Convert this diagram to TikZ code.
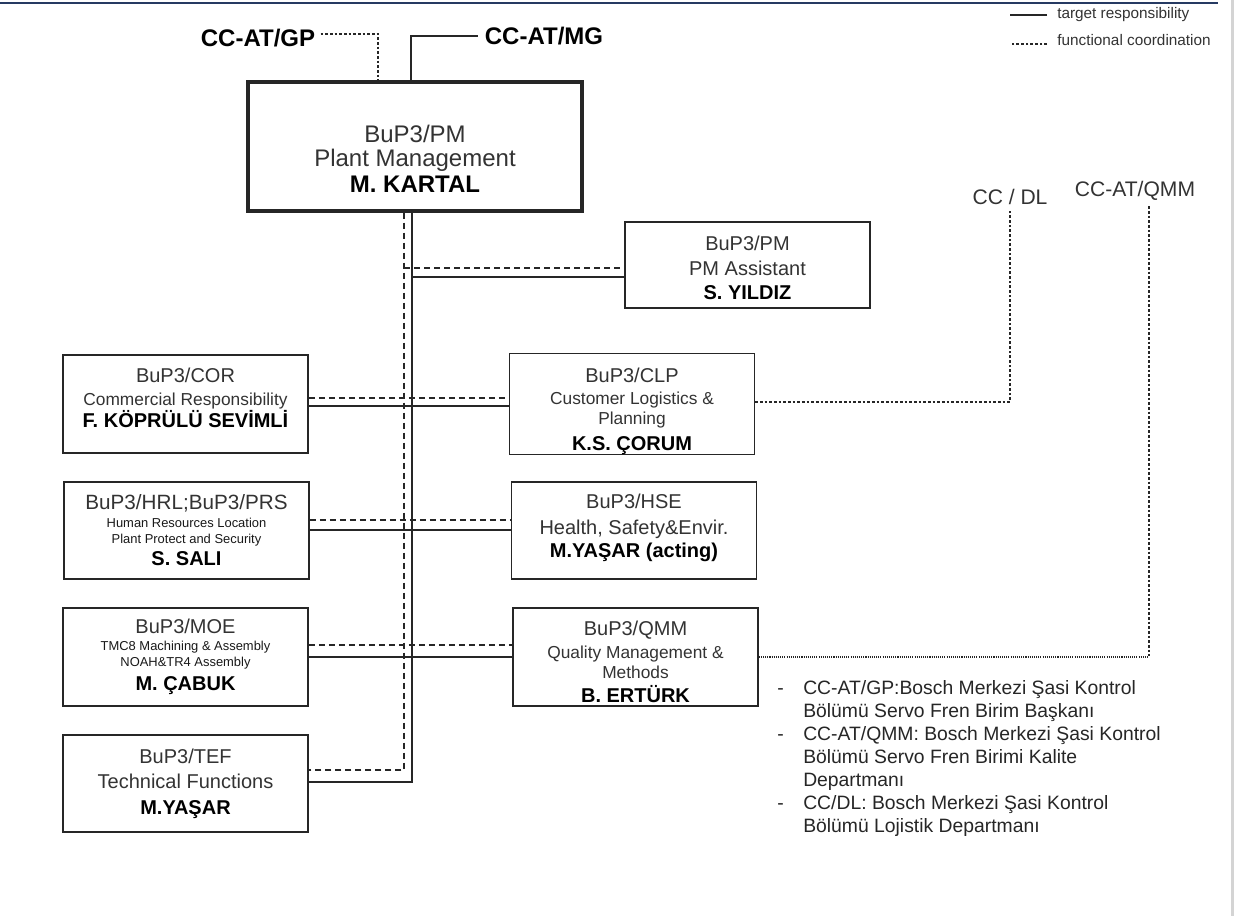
\documentclass[tikz,border=0pt]{standalone}
\usepackage{fontspec}
\setmainfont{Liberation Sans}
\definecolor{topline}{RGB}{38,58,98}
\newcommand{\boss}[1]{{\bfseries\color{black}#1}}
\newcommand{\midtext}[1]{{\fontsize{13}{15}\selectfont #1}}
\newcommand{\smalltext}[1]{{\fontsize{9.7}{11}\selectfont\color{black!90}#1}}
\newcommand{\padtop}[1]{\rule{0pt}{#1}}
\newcommand{\padbot}[1]{\rule[-#1]{0pt}{#1}}

\begin{document}
\begin{tikzpicture}
  [x=0.75pt,y=-0.75pt,
   every node/.style={inner sep=0pt,text=black!80},
   unit/.style={draw=black!85,line width=1.2pt,minimum width=183.75pt,
     minimum height=73.5pt,align=center,font=\fontsize{15}{18.5}\selectfont},
   top/.style={font=\fontsize{18}{20}\selectfont\bfseries,text=black,inner sep=4pt},
   ext/.style={font=\fontsize{15.8}{19}\selectfont,inner sep=4pt},
   legend/.style={font=\fontsize{11.5}{14}\selectfont,anchor=west},
   link/.style={line width=1.1pt,draw=black!85},
   dashlink/.style={link,dash pattern=on 4.5pt off 3pt},
   dotlink/.style={line width=2pt,draw=black!85,dash pattern=on 2pt off 1.5pt},
   finedot/.style={line width=0.8pt,draw=black!85,dash pattern=on 0.8pt off 0.8pt}]

  \useasboundingbox (0,0) rectangle (1238,916);
  \fill[white] (0,0) rectangle (1238,916);
  \draw[topline,line width=1.6pt] (0,3) -- (1218,3);
  \fill[black!17] (1231,0) rectangle (1234,916);

  % legend
  \node[legend] (tr) at (1057,15) {target responsibility};
  \node[legend] (fc) at (1057,40) {functional coordination};
  \draw[link] (tr.west) ++(-10,0) -- ++(-37,0);
  \draw[dotlink] (fc.west) ++(-10,4) -- ++(-37,0);

  % plant management
  \node[unit,line width=2.6pt,minimum width=250.5pt,minimum height=96.75pt,
    font=\fontsize{18}{18}\selectfont] (pm) at (415,146.5)
    {\padtop{31.6pt}BuP3/PM\\Plant Management\\[1.5pt]\boss{M. KARTAL}};
  \node[top] (gp) at (258,38) {CC-AT/GP};
  \node[top,inner sep=5pt] (mg) at (544,36) {CC-AT/MG};

  % units
  \node[unit,minimum height=64.5pt] (ass) at (747.5,265)
    {\padtop{15.4pt}BuP3/PM\\PM Assistant\\\boss{S. YILDIZ}};
  \node[unit] (cor) at (185.5,404)
    {BuP3/COR\\[-1pt]\midtext{Commercial Responsibility}\\[-2pt]\boss{F. KÖPRÜLÜ SEVİMLİ}\padbot{9pt}};
  \node[unit] (clp) at (632,404)
    {\padtop{21.4pt}BuP3/CLP\\[-1.5pt]\midtext{Customer Logistics \&}\\[-3.5pt]\midtext{Planning}\\[0.5pt]\boss{K.S. ÇORUM}};
  \node[unit,minimum height=72.75pt] (hrl) at (186.5,530.5)
    {\fontsize{15.5}{18}\selectfont BuP3/HRL;BuP3/PRS\\[-5.5pt]\smalltext{Human Resources Location}\\[-6.5pt]\smalltext{Plant Protect and Security}\\[-1.5pt]\boss{S. SALI}};
  \node[unit,minimum height=72.75pt] (hse) at (634,530.5)
    {BuP3/HSE\\[1pt]Health, Safety\&Envir.\\[-1.25pt]\boss{M.YAŞAR (acting)}\padbot{7.7pt}};
  \node[unit] (moe) at (185.5,657)
    {BuP3/MOE\\[-5.5pt]\smalltext{TMC8 Machining \& Assembly}\\[-6.5pt]\smalltext{NOAH\&TR4 Assembly}\\[-0.5pt]\boss{M. ÇABUK}};
  \node[unit] (qmm) at (635.5,657)
    {\padtop{18.4pt}BuP3/QMM\\[-1.5pt]\midtext{Quality Management \&}\\[-3.5pt]\midtext{Methods}\\[-0.3pt]\boss{B. ERTÜRK}};
  \node[unit,minimum height=72.75pt] (tef) at (185.5,783.5)
    {BuP3/TEF\\[0.25pt]Technical Functions\\[1pt]\boss{M.YAŞAR}};

  % outside departments
  \node[ext] (dl) at (1010,197) {CC / DL};
  \node[ext] (cq) at (1135,191) {CC-AT/QMM};

  \node[anchor=north west,align=left,font=\fontsize{14.5}{17.25}\selectfont,text=black!85] (notes) at (777,680)
    {\makebox[19.5pt][l]{-}CC-AT/GP:Bosch Merkezi Şasi Kontrol\\
     \hspace*{19.5pt}Bölümü Servo Fren Birim Başkanı\\
     \makebox[19.5pt][l]{-}CC-AT/QMM: Bosch Merkezi Şasi Kontrol\\
     \hspace*{19.5pt}Bölümü Servo Fren Birimi Kalite\\
     \hspace*{19.5pt}Departmanı\\
     \makebox[19.5pt][l]{-}CC/DL: Bosch Merkezi Şasi Kontrol\\
     \hspace*{19.5pt}Bölümü Lojistik Departmanı};

  \coordinate (dx) at (404,0);
  \coordinate (sx) at (412,0);
  \coordinate (qc) at (1149,656);

  \draw[dotlink] ([yshift=3pt]gp.east) -| ([xshift=-27.75pt]pm.north);
  \draw[link] ([xshift=-3pt]pm.north) |- (mg.west);
  \draw[dashlink] (pm.south -| dx) |- ([yshift=10pt]tef.east);
  \draw[link] (pm.south -| sx) |- ([yshift=1pt]tef.east);
  \draw[dashlink] ([yshift=-2.25pt]ass.west -| dx) -- ([yshift=-2.25pt]ass.west);
  \draw[link] ([yshift=-9pt]ass.west -| sx) -- ([yshift=-9pt]ass.west);
  \foreach \from/\to/\up/\down in {cor/clp/4.5/-1.5,hrl/hse/7.9/0.4,moe/qmm/9/0}
  {
    \draw[dashlink] ([yshift=\up pt]\from.east) -- ([yshift=\up pt]\to.west);
    \draw[link] ([yshift=\down pt]\from.east) -- ([yshift=\down pt]\to.west);
  }
  \draw[dotlink] ([yshift=1.5pt]clp.east) -| (dl.south);
  \draw[dotlink] (qc |- cq.south) -- (qc);
  \draw[finedot] (qmm.east) -- (qmm.east -| qc);

\end{tikzpicture}
\end{document}
